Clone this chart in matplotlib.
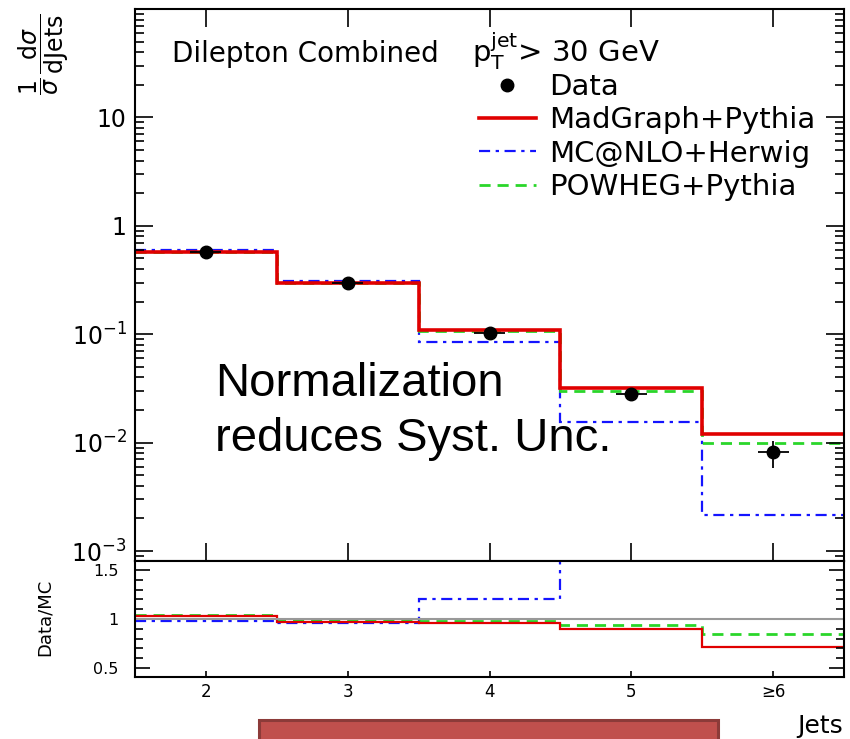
import matplotlib
matplotlib.use("Agg")
import matplotlib.pyplot as plt
from matplotlib.lines import Line2D
from matplotlib.patches import Rectangle
from matplotlib.ticker import FixedLocator, FixedFormatter, LogLocator, MultipleLocator, NullFormatter

plt.rcParams['font.family'] = ['DejaVu Sans']
plt.rcParams['mathtext.fontset'] = 'dejavusans'

# jet multiplicity bins
edges = [1.5, 2.5, 3.5, 4.5, 5.5, 6.5]
jet_bins = [2, 3, 4, 5, 6]
jet_labels = ['2', '3', '4', '5', '≥6']

# normalised cross section, data
data_xsec = [0.575, 0.298, 0.103, 0.0283, 0.00826]
data_err_lo = [0.012, 0.007, 0.004, 0.0020, 0.0024]
data_err_hi = [0.012, 0.007, 0.004, 0.0020, 0.0021]
data_xerr = 0.11

# predictions
madgraph = [0.575, 0.298, 0.109, 0.0320, 0.0119]
mcatnlo = [0.60, 0.31, 0.085, 0.0156, 0.00217]
powheg = [0.57, 0.30, 0.107, 0.0302, 0.0100]

# data / MC
ratio_madgraph = [1.03, 0.97, 0.96, 0.90, 0.71]
ratio_mcatnlo = [0.98, 0.96, 1.20, 1.81, 3.81]
ratio_powheg = [1.04, 0.99, 0.98, 0.94, 0.85]

RED = '#e00000'
BLUE = '#1414ff'
GREEN = '#2ad62a'
DASHDOT = (0, (5, 2.5, 1.5, 2.5))
DASHED = (0, (4, 2.5))

W, H = 850, 739


def fx(x):
    return x / W


def fy(y):
    return 1 - y / H


fig = plt.figure(figsize=(8.5, 7.39), dpi=100)
ax = fig.add_axes([fx(135), fy(561), 709 / W, 552 / H])
rax = fig.add_axes([fx(135), fy(677), 709 / W, 116 / H])

# main panel
ax.stairs(mcatnlo, edges, baseline=None, color=BLUE, lw=1.6, ls=DASHDOT)
ax.stairs(powheg, edges, baseline=None, color=GREEN, lw=2.0, ls=DASHED)
ax.stairs(madgraph, edges, baseline=None, color=RED, lw=2.6)
ax.errorbar(jet_bins, data_xsec, yerr=[data_err_lo, data_err_hi], xerr=data_xerr,
            fmt='o', color='black', ms=9, elinewidth=1.3, capsize=0, zorder=5)

ax.set_yscale('log')
ax.set_xlim(1.5, 6.5)
ax.set_ylim(8.1e-4, 100)
ax.yaxis.set_major_locator(FixedLocator([1e-3, 1e-2, 1e-1, 1, 10, 100]))
ax.yaxis.set_major_formatter(FixedFormatter([r'$10^{-3}$', r'$10^{-2}$', r'$10^{-1}$', '1', '10', '']))
ax.yaxis.set_minor_locator(LogLocator(base=10, subs=range(2, 10)))
ax.yaxis.set_minor_formatter(NullFormatter())
ax.set_xticks(jet_bins)
ax.set_xticklabels([])
ax.tick_params(axis='both', which='both', direction='in', top=True, right=True, width=1.2)
ax.tick_params(axis='y', which='major', length=13, labelsize=17, pad=6)
ax.tick_params(axis='y', which='minor', length=6.5)
ax.tick_params(axis='x', which='major', length=13)
ax.tick_params(axis='x', which='minor', length=0)
for s in ax.spines.values():
    s.set_linewidth(1.5)

handles = [
    Line2D([], [], ls='none', marker='o', color='black', ms=9),
    Line2D([], [], color=RED, lw=2.6),
    Line2D([], [], color=BLUE, lw=1.6, ls=DASHDOT),
    Line2D([], [], color=GREEN, lw=2.0, ls=DASHED),
]
labels = ['Data', 'MadGraph+Pythia', 'MC@NLO+Herwig', 'POWHEG+Pythia']
ax.legend(handles, labels, loc='upper left', bbox_to_anchor=(fx(479), fy(73)),
          bbox_transform=fig.transFigure, frameon=False, fontsize=21,
          handlelength=1.95, handletextpad=0.45, labelspacing=0.18,
          borderpad=0, borderaxespad=0)

fig.text(fx(172), fy(62), 'Dilepton Combined', fontsize=20, va='baseline')
fig.text(fx(472), fy(62), r'$\mathrm{p}_{\mathrm{T}}^{\mathrm{jet}}$> 30 GeV', fontsize=21, va='baseline')

# ratio panel
rax.axhline(1.0, color='#999999', lw=1.5)
rax.stairs(ratio_mcatnlo, edges, baseline=None, color=BLUE, lw=1.6, ls=DASHDOT)
rax.stairs(ratio_powheg, edges, baseline=None, color=GREEN, lw=2.0, ls=DASHED)
rax.stairs(ratio_madgraph, edges, baseline=None, color=RED, lw=1.6)

rax.set_xlim(1.5, 6.5)
rax.set_ylim(0.408, 1.592)
rax.yaxis.set_major_locator(FixedLocator([0.5, 1.0, 1.5]))
rax.yaxis.set_major_formatter(FixedFormatter(['0.5', '1', '1.5']))
rax.yaxis.set_minor_locator(MultipleLocator(0.1))
rax.set_xticks(jet_bins)
rax.set_xticklabels(jet_labels)
rax.tick_params(axis='both', which='both', direction='in', right=True, width=1.2)
rax.tick_params(axis='y', which='major', length=11, labelsize=11.5, pad=12)
rax.tick_params(axis='y', which='minor', length=5.5)
rax.tick_params(axis='x', which='major', length=4, labelsize=12, pad=4.5)
rax.tick_params(axis='x', which='minor', length=0)
for s in rax.spines.values():
    s.set_linewidth(1.5)

fig.text(fx(44), fy(54), r'$\dfrac{1}{\sigma}\,\dfrac{\mathrm{d}\sigma}{\mathrm{dJets}}$',
         fontsize=17, rotation=90, ha='center', va='center')
fig.text(fx(45), fy(617), 'Data/MC', fontsize=13, rotation=90, ha='center', va='center')
fig.text(fx(843), fy(738), 'Jets', fontsize=18, ha='right', va='bottom')

fig.text(fx(215), fy(451), 'Normalization\nreduces Syst. Unc.', fontsize=34,
         family='Liberation Sans', va='baseline', linespacing=1.33)

fig.patches.append(Rectangle((fx(259), fy(760)), (718 - 259) / W, 40 / H,
                             transform=fig.transFigure, facecolor='#c0504d',
                             edgecolor='#8c3b39', lw=2.2, zorder=10))

fig.savefig('out.png', dpi=100)
